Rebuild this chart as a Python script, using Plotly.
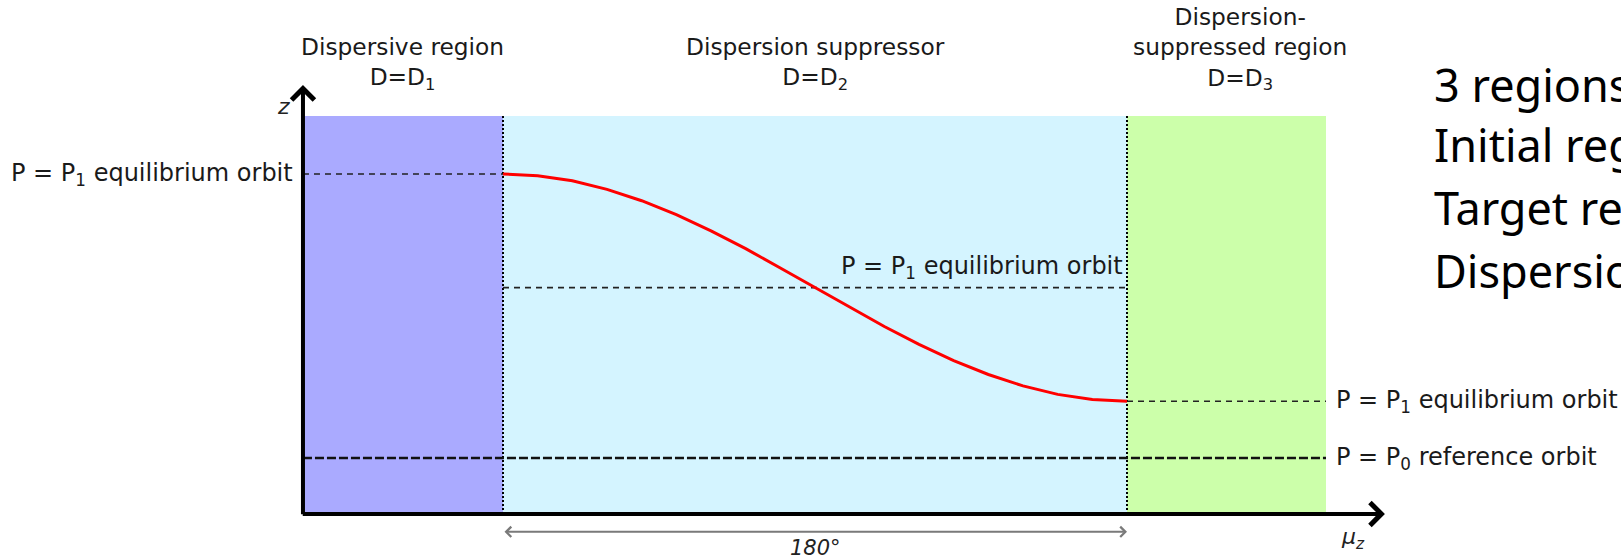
import plotly.graph_objects as go

# ---------------- data ----------------
region_titles = ["Dispersive region<br>D=D<sub>1</sub>",
                 "Dispersion suppressor<br>D=D<sub>2</sub>",
                 "Dispersion-<br>suppressed region<br>D=D<sub>3</sub>"]
region_start = [-57.7, 0.0, 180.0]      # phase advance mu_z (deg)
region_end = [0.0, 180.0, 237.4]
region_title_mu = [-28.9, 90.0, 212.6]
region_colors = ["#AAAAFF", "#D4F4FF", "#CCFFAA"]

mu_axis = [-57.7, 254.4]      # horizontal axis extent
z_axis = [-0.197, 1.313]      # vertical axis extent
z_region_top = 1.204

# red orbit through the dispersion suppressor
mu_curve = [0, 10, 20, 30, 40, 50, 60, 70, 80, 90,
            100, 110, 120, 130, 140, 150, 160, 170, 180]
z_curve = [1.000, 0.994, 0.976, 0.946, 0.906, 0.857, 0.800, 0.737, 0.669, 0.600,
           0.531, 0.463, 0.400, 0.343, 0.294, 0.254, 0.224, 0.206, 0.200]

z_p1_initial = 1.0
z_p1_mid = 0.6
z_p1_final = 0.2
z_p0 = 0.0

span_mu = [0.0, 180.0]
span_z = -0.26
span_label = "180°"

label_p1 = "P = P<sub>1</sub> equilibrium orbit"
label_p0 = "P = P<sub>0</sub> reference orbit"

side_lines = ["3 regions:", "Initial region: D = D<sub>1</sub>",
              "Target region: D = D<sub>3</sub>", "Dispersion suppressor: D = D<sub>2</sub>"]

# ---------------- figure ----------------
FONT = "DejaVu Sans"
LBL = dict(family=FONT, size=24, color="#1a1a1a")
TTL = dict(family=FONT, size=23.3, color="#1a1a1a")
fig = go.Figure()

# coloured regions
for s, e, c in zip(region_start, region_end, region_colors):
    fig.add_shape(type="rect", xref="x", yref="y", x0=s, x1=e,
                  y0=z_axis[0], y1=z_region_top, fillcolor=c,
                  line=dict(width=0), layer="below")

# dotted region boundaries
for b in [region_end[0], region_end[1]]:
    fig.add_trace(go.Scatter(x=[b, b], y=[z_axis[0], z_region_top], mode="lines",
                             line=dict(color="#000000", width=2, dash="2px,2px"),
                             hoverinfo="skip", showlegend=False))

# orbit reference lines
dash_p1 = dict(color="#222222", width=1.6, dash="6px,5px")
fig.add_trace(go.Scatter(x=[region_start[0], region_end[0]], y=[z_p1_initial] * 2,
                         mode="lines", line=dash_p1, hoverinfo="skip", showlegend=False))
fig.add_trace(go.Scatter(x=[region_start[1], region_end[1]], y=[z_p1_mid] * 2,
                         mode="lines", line=dash_p1, hoverinfo="skip", showlegend=False))
fig.add_trace(go.Scatter(x=[region_start[2], region_end[2]], y=[z_p1_final] * 2,
                         mode="lines", line=dash_p1, hoverinfo="skip", showlegend=False))
fig.add_trace(go.Scatter(x=[region_start[0], region_end[2]], y=[z_p0] * 2,
                         mode="lines", line=dict(color="#111111", width=2.4, dash="9px,3px"),
                         hoverinfo="skip", showlegend=False))

# red orbit
fig.add_trace(go.Scatter(x=mu_curve, y=z_curve, mode="lines",
                         line=dict(color="#FF0000", width=3),
                         hoverinfo="skip", showlegend=False))

ann = []
# axes with arrows
ann.append(dict(x=mu_axis[1], y=z_axis[0], ax=mu_axis[0] - 0.5, ay=z_axis[0],
                xref="x", yref="y", axref="x", ayref="y", text="", showarrow=True,
                arrowhead=4, arrowwidth=4, arrowsize=1.1, arrowcolor="#000000"))
ann.append(dict(x=mu_axis[0], y=z_axis[1], ax=mu_axis[0], ay=z_axis[0] - 0.006,
                xref="x", yref="y", axref="x", ayref="y", text="", showarrow=True,
                arrowhead=4, arrowwidth=4, arrowsize=1.1, arrowcolor="#000000"))
# 180 degree span arrow
ann.append(dict(x=span_mu[1], y=span_z, ax=span_mu[0], ay=span_z,
                xref="x", yref="y", axref="x", ayref="y", text="", showarrow=True,
                arrowhead=4, startarrowhead=4, arrowside="end+start",
                arrowwidth=2, arrowsize=1.0, startarrowsize=1.0, arrowcolor="#7a7a7a"))
ann.append(dict(x=sum(span_mu) / 2, y=span_z, xref="x", yref="y", text="<i>" + span_label + "</i>",
                showarrow=False, yanchor="top", yshift=-2,
                font=dict(family=FONT, size=21, color="#222222")))
# axis labels
ann.append(dict(x=mu_axis[0], y=z_region_top, xref="x", yref="y", text="<i>z</i>",
                showarrow=False, xanchor="right", yanchor="bottom", xshift=-11, yshift=-5,
                font=dict(family=FONT, size=22, color="#222222")))
ann.append(dict(x=mu_axis[1], y=z_axis[0], xref="x", yref="y", text="<i>μ<sub>z</sub></i>",
                showarrow=False, xanchor="center", yanchor="top", xshift=-32, yshift=-8,
                font=dict(family=FONT, size=22, color="#222222")))
# region titles
for t, m in zip(region_titles, region_title_mu):
    ann.append(dict(x=m, y=z_axis[1], xref="x", yref="y", text=t, showarrow=False,
                    xanchor="center", yanchor="bottom", yshift=-11, font=TTL))
# orbit labels
ann.append(dict(x=region_start[0], y=z_p1_initial, xref="x", yref="y", text=label_p1,
                showarrow=False, xanchor="right", yanchor="middle", xshift=-8, font=LBL))
ann.append(dict(x=region_end[1], y=z_p1_mid, xref="x", yref="y", text=label_p1,
                showarrow=False, xanchor="right", yanchor="middle", xshift=-2, yshift=20,
                font=LBL))
ann.append(dict(x=region_end[2], y=z_p1_final, xref="x", yref="y", text=label_p1,
                showarrow=False, xanchor="left", yanchor="middle", xshift=8, font=LBL))
ann.append(dict(x=region_end[2], y=z_p0, xref="x", yref="y", text=label_p0,
                showarrow=False, xanchor="left", yanchor="middle", xshift=8, font=LBL))
# side notes (one annotation per line, clipped by the right edge like the reference)
for i, line in enumerate(side_lines):
    ann.append(dict(x=1432 / 1621, y=1 - (84 + 63 * i) / 560, xref="paper", yref="paper",
                    text=line, showarrow=False, xanchor="left", yanchor="middle",
                    align="left", font=dict(family="Noto Sans", size=45, color="#000000")))

px_per_deg = 624 / 180
px_per_z = 284
fig.update_layout(
    width=1621, height=560, margin=dict(l=0, r=0, t=0, b=0),
    paper_bgcolor="white", plot_bgcolor="white", showlegend=False,
    xaxis=dict(range=[-503 / px_per_deg, (1621 - 503) / px_per_deg], visible=False,
               fixedrange=True),
    yaxis=dict(range=[(458 - 560) / px_per_z, 458 / px_per_z], visible=False,
               fixedrange=True),
    annotations=ann,
)

fig.write_html("out.html", config={"displayModeBar": False},
               post_script="document.body.style.margin='0';document.body.style.overflow='hidden';")
